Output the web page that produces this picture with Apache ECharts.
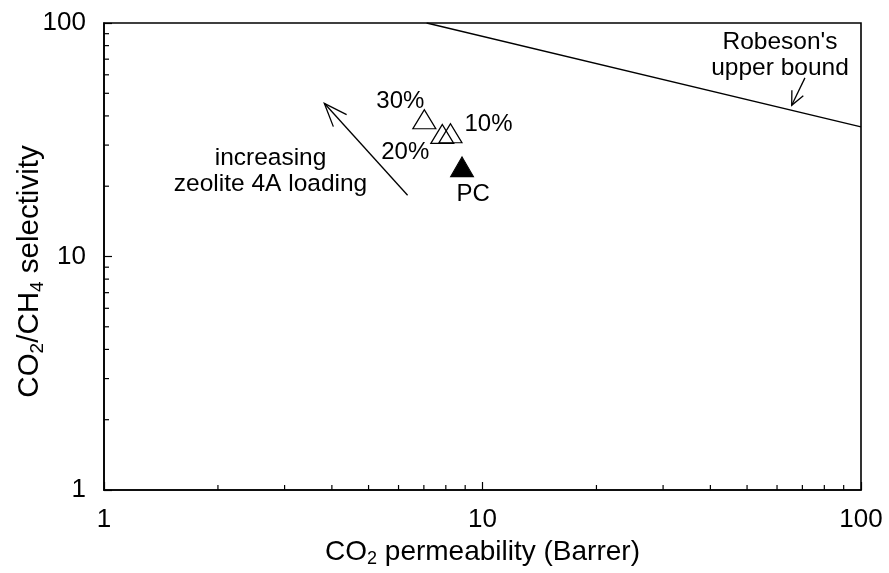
<!DOCTYPE html>
<html><head><meta charset="utf-8">
<script src="https://cdn.jsdelivr.net/npm/echarts@6/dist/echarts.min.js"></script>
<style>html,body{margin:0;padding:0;background:#fff}#c{width:889px;height:573px}</style>
</head><body><div id="c"></div>
<script>
// ---- data ----
const xTicks = [1, 10, 100];
const yTicks = [1, 10, 100];
const minorTicks = [2, 3, 4, 5, 6, 7, 8, 9, 20, 30, 40, 50, 60, 70, 80, 90];
const loadings = ['10%', '20%', '30%'];
const permeability = [8.23, 7.83, 7.02];
const selectivity = [33.7, 33.5, 38.7];
const pcName = 'PC';
const pcPermeability = 8.83;
const pcSelectivity = 24.2;
const robesonX = [7.12, 100];
const robesonY = [100, 35.9];
const arrowFromX = [6.34, 71.1];
const arrowFromY = [18.3, 58.2];
const arrowToX = [3.82, 65.6];
const arrowToY = [45.3, 44.4];
const notes = ['increasing\nzeolite 4A loading', "Robeson's\nupper bound"];
const noteX = [2.754, 61.1];
const noteY = [23.2, 72.9];

// ---- styling ----
const FONT = 'Liberation Sans, Arial, Helvetica, sans-serif';
const labelOffsets = { '10%': [38, -9], '20%': [-37, 18], '30%': [-24, -18], 'PC': [11, 27] };
const heads = [{ len: 25, half: 21 }, { len: 15, half: 25 }];

const chart = echarts.init(document.getElementById('c'), null, { renderer: 'canvas' });

const richX = {
  a: { fontSize: 28, color: '#000', fontFamily: FONT },
  b: { fontSize: 18, color: '#000', fontFamily: FONT, padding: [14, 0, 0, 0] }
};
const richY = {
  a: { fontSize: 29.5, color: '#000', fontFamily: FONT },
  b: { fontSize: 19, color: '#000', fontFamily: FONT, padding: [15, 0, 0, 0] }
};

const axisCommon = {
  type: 'log', logBase: 10, min: 1, max: 100,
  axisLine: { show: true, lineStyle: { color: '#000', width: 1.6 } },
  axisTick: { show: true, inside: true, length: 8, lineStyle: { color: '#000', width: 1.2 } },
  splitLine: { show: false },
  nameLocation: 'middle'
};

const tickSeries = (dir) => ({
  type: 'custom',
  silent: true,
  data: minorTicks.map(v => dir === 'x' ? [v, yTicks[0]] : [xTicks[0], v]),
  encode: { x: 0, y: 1 },
  renderItem: (params, api) => {
    const p = api.coord([api.value(0), api.value(1)]);
    const shape = dir === 'x'
      ? { x1: p[0], y1: p[1], x2: p[0], y2: p[1] - 5 }
      : { x1: p[0], y1: p[1], x2: p[0] + 5, y2: p[1] };
    return { type: 'line', shape, style: { stroke: '#000', lineWidth: 1.2 } };
  },
  z: 5
});

const textLabel = { show: true, position: 'inside', formatter: '{b}', color: '#000', opacity: 1, fontSize: 24, fontFamily: FONT };

const option = {
  backgroundColor: '#fff',
  animation: false,
  grid: { left: 104, right: 28, top: 23, bottom: 83, containLabel: false, outerBoundsMode: 'none', show: true, borderColor: '#000', borderWidth: 1.6, backgroundColor: 'transparent' },
  xAxis: Object.assign({}, axisCommon, {
    name: '{a|CO}{b|2}{a| permeability (Barrer)}',
    nameGap: 44,
    nameTextStyle: { rich: richX },
    axisLabel: { color: '#000', fontSize: 26, fontFamily: FONT, margin: 17, formatter: v => xTicks.includes(v) ? String(v) : '' }
  }),
  yAxis: Object.assign({}, axisCommon, {
    name: '{a|CO}{b|2}{a|/CH}{b|4}{a| selectivity}',
    nameGap: 57,
    nameMoveOverlap: false,
    nameTextStyle: { rich: richY, padding: [0, 30, 0, 0] },
    axisLabel: { color: '#000', fontSize: 26, fontFamily: FONT, margin: 18, formatter: v => yTicks.includes(v) ? String(v) : '' }
  }),
  series: [
    tickSeries('x'),
    tickSeries('y'),
    {
      type: 'line',
      data: robesonX.map((x, i) => [x, robesonY[i]]),
      showSymbol: false, symbol: 'none',
      lineStyle: { color: '#000', width: 1.3 },
      silent: true
    },
    {
      type: 'scatter',
      symbol: 'triangle',
      symbolSize: [23, 19],
      itemStyle: { color: 'none', borderColor: '#000', borderWidth: 1.2, opacity: 1 },
      data: loadings.map((n, i) => ({ name: n, value: [permeability[i], selectivity[i]], label: { offset: labelOffsets[n] } })),
      label: textLabel,
      z: 3
    },
    {
      type: 'scatter',
      symbol: 'triangle',
      symbolSize: [23, 20],
      itemStyle: { color: '#000', borderColor: '#000', borderWidth: 1, opacity: 1 },
      data: [{ name: pcName, value: [pcPermeability, pcSelectivity], label: { offset: labelOffsets[pcName] } }],
      label: textLabel,
      z: 3
    },
    {
      type: 'scatter',
      symbolSize: 0,
      silent: true,
      itemStyle: { opacity: 1 },
      data: notes.map((n, i) => ({ name: n, value: [noteX[i], noteY[i]] })),
      label: Object.assign({}, textLabel, { lineHeight: 26, align: 'center', fontSize: 24.5 })
    },
    {
      type: 'custom',
      silent: true,
      data: arrowFromX.map((x, i) => [x, arrowFromY[i], arrowToX[i], arrowToY[i]]),
      encode: { x: [0, 2], y: [1, 3] },
      renderItem: (params, api) => {
        const a = api.coord([api.value(0), api.value(1)]);
        const b = api.coord([api.value(2), api.value(3)]);
        const h = heads[params.dataIndex];
        const ang = Math.atan2(a[1] - b[1], a[0] - b[0]);
        const r = h.half * Math.PI / 180;
        const p1 = [b[0] + h.len * Math.cos(ang + r), b[1] + h.len * Math.sin(ang + r)];
        const p2 = [b[0] + h.len * Math.cos(ang - r), b[1] + h.len * Math.sin(ang - r)];
        return {
          type: 'group',
          children: [
            { type: 'line', shape: { x1: a[0], y1: a[1], x2: b[0], y2: b[1] }, style: { stroke: '#000', lineWidth: 1.3 } },
            { type: 'polyline', shape: { points: [p1, b, p2] }, style: { stroke: '#000', lineWidth: 1.3, fill: 'none' } }
          ]
        };
      },
      z: 4
    }
  ]
};
chart.setOption(option);
</script>
</body></html>
